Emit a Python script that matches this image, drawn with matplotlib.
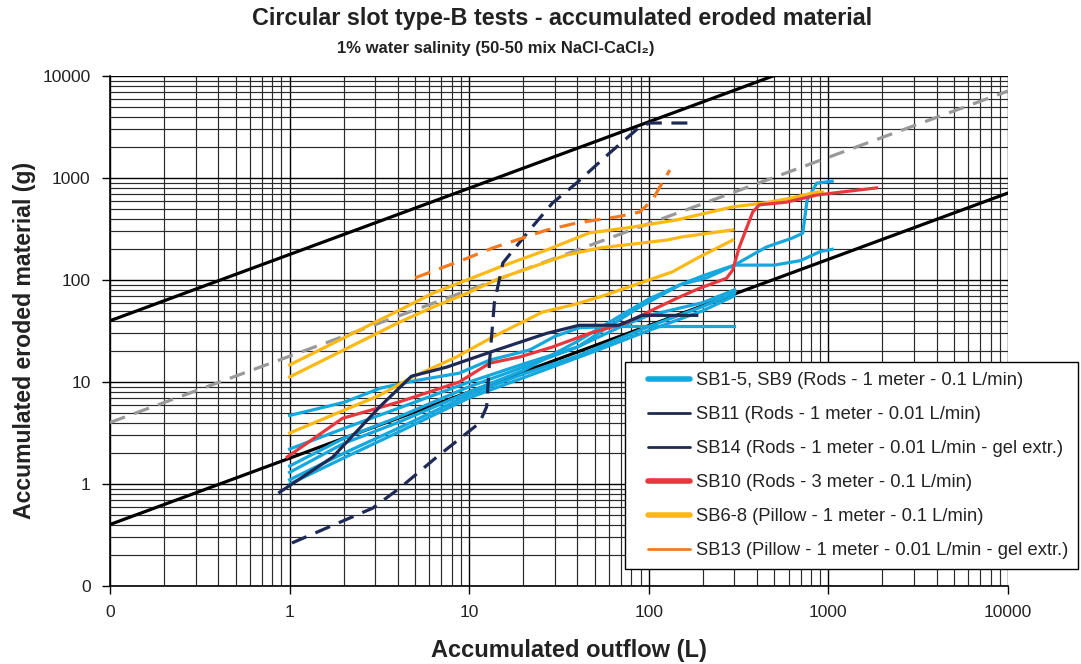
import matplotlib
matplotlib.use("Agg")
import matplotlib.pyplot as plt
from matplotlib.lines import Line2D
from matplotlib.legend_handler import HandlerBase
from matplotlib.ticker import LogLocator, FixedLocator, FixedFormatter, NullFormatter
import numpy as np

plt.rcParams['font.family'] = ['Liberation Sans', 'DejaVu Sans']

# ---------------- data ----------------
# SB1-5, SB9 (cyan)
cyanA_x = [1, 2, 3.2, 5, 8.8, 13, 21.7, 30, 41, 60, 100, 200, 300]
cyanA_y = [4.7, 6.3, 8.7, 10.3, 12.2, 16.4, 20.6, 28, 34, 35, 35, 35, 35]
cyanB_x = [1, 2, 4, 10, 20, 40, 70, 100, 200, 300]
cyanB_y = [2.2, 3.5, 5.5, 10, 15, 22, 35, 45, 60, 80]
cyanC_x = [1, 2, 4, 10, 20, 40, 60, 90, 150, 210, 300, 500, 700, 900, 1050]
cyanC_y = [1.5, 2.8, 4.5, 9, 14, 22, 35, 55, 90, 105, 140, 140, 155, 190, 200]
cyanD_x = [1, 2, 4, 10, 20, 40, 70, 100, 150, 200, 300, 450, 630, 720, 760, 860, 1050]
cyanD_y = [1.3, 2.5, 4, 8, 13, 25, 45, 65, 90, 110, 140, 210, 258, 288, 600, 890, 930]
cyanE_x = [1, 2, 4, 10, 20, 40, 100, 200, 300]
cyanE_y = [1.1, 2, 3.5, 7.5, 12, 18, 35, 55, 75]
cyanF_x = [1, 2, 4, 10, 20, 50, 100, 200, 300]
cyanF_y = [1.0, 1.8, 3.2, 7, 11, 20, 32, 50, 70]

# SB11 (navy solid)
sb11_x = [0.88, 1.74, 3.17, 4.77, 7.5, 14.2, 27, 41, 68, 92, 185]
sb11_y = [0.83, 1.84, 5.7, 11.4, 14, 20.6, 30, 36, 36, 45, 45]

# SB14 (navy dashed)
sb14_x = [1.03, 2.9, 4.1, 6.6, 11.4, 12.5, 13.0, 13.8, 15.4, 21.7, 29.1, 39.6, 60.5, 88.9, 101, 169]
sb14_y = [0.264, 0.58, 0.91, 1.84, 3.96, 5.7, 16.4, 59.5, 147, 309, 569, 893, 1758, 3163, 3460, 3460]

# SB10 (red)
sb10_x = [0.97, 1.97, 4.1, 8.8, 13, 19.1, 29, 46.8, 75, 110, 148, 192, 271, 293, 319, 379, 412, 584, 860, 1048, 1853]
sb10_y = [1.84, 4.4, 6.4, 10, 15.3, 17.6, 22, 30, 38, 53, 68, 83, 104, 125, 210, 464, 545, 580, 680, 710, 800]

# SB6-8 (yellow)
yelA_x = [1, 4.1, 6.25, 9.7, 14.8, 27, 46.8, 81, 142, 293, 452, 632, 860, 925]
yelA_y = [14.7, 50.8, 74, 100, 134, 197, 290, 330, 387, 521, 573, 640, 729, 729]
yelB_x = [1, 4.1, 6.25, 9.7, 14.8, 35, 53, 125, 154, 293]
yelB_y = [11.2, 38.7, 54, 74, 104, 176, 206, 246, 265, 310]
yelC_x = [1, 3.17, 4.84, 8.5, 13.5, 25.6, 37.7, 53, 89, 135, 191, 293]
yelC_y = [3.16, 7.4, 11.2, 17.6, 27.6, 48.5, 57, 68, 93, 120, 168, 246]

# SB13 (orange dashed)
sb13_x = [5, 9.2, 13.5, 27, 39.6, 66, 89, 105, 115, 131]
sb13_y = [105, 157, 206, 309, 362, 415, 464, 609, 816, 1197]

# Reference power-law lines y = a * x^0.65
ref_exp = 0.65
ref_upper_a = 178
ref_mid_a = 17.9
ref_lower_a = 1.79

tick_vals = [0.1, 1, 10, 100, 1000, 10000]
tick_labels = ["0", "1", "10", "100", "1000", "10000"]

legend_labels = [
    "SB1-5, SB9 (Rods - 1 meter - 0.1 L/min)",
    "SB11 (Rods - 1 meter - 0.01 L/min)",
    "SB14 (Rods - 1 meter - 0.01 L/min - gel extr.)",
    "SB10 (Rods - 3 meter - 0.1 L/min)",
    "SB6-8 (Pillow - 1 meter - 0.1 L/min)",
    "SB13 (Pillow - 1 meter - 0.01 L/min - gel extr.)",
]

# ---------------- colours ----------------
C_CYAN = "#14A8DE"
C_NAVY = "#1E2A55"
C_RED = "#E8383D"
C_YEL = "#FDB913"
C_ORA = "#F47A20"
C_GRAY = "#999999"
C_TEXT = "#222222"


class ShiftedLineHandler(HandlerBase):
    """Legend handle drawn only over the right part of the handle box."""
    def create_artists(self, legend, orig_handle, xdescent, ydescent,
                       width, height, fontsize, trans):
        x0 = -xdescent + width * 0.24
        x1 = -xdescent + width
        y = height / 2 - ydescent
        ln = Line2D([x0, x1], [y, y], color=orig_handle.get_color(),
                    lw=orig_handle.get_linewidth(), solid_capstyle="round")
        ln.set_transform(trans)
        return [ln]


fig = plt.figure(figsize=(10.81, 6.64), dpi=100)
ax = fig.add_axes([110/1081, 1-586/664, (1008-110)/1081, (586-76)/664])
ax.set_xscale("log")
ax.set_yscale("log")
ax.set_xlim(0.1, 10000)
ax.set_ylim(0.1, 10000)

# grid
ax.xaxis.set_minor_locator(LogLocator(base=10, subs=np.arange(2, 10)))
ax.yaxis.set_minor_locator(LogLocator(base=10, subs=np.arange(2, 10)))
ax.xaxis.set_minor_formatter(NullFormatter())
ax.yaxis.set_minor_formatter(NullFormatter())
ax.grid(True, which="major", color="#000000", lw=1.0)
ax.grid(True, which="minor", color="#2a2a2a", lw=0.85)
ax.set_axisbelow(True)

ax.xaxis.set_major_locator(FixedLocator(tick_vals))
ax.xaxis.set_major_formatter(FixedFormatter(tick_labels))
ax.yaxis.set_major_locator(FixedLocator(tick_vals))
ax.yaxis.set_major_formatter(FixedFormatter(tick_labels))
ax.tick_params(which="major", length=6, width=1, labelsize=12.5, pad=8,
               labelcolor=C_TEXT)
ax.tick_params(which="minor", length=0)
for s in ["top", "right"]:
    ax.spines[s].set_visible(False)
for s in ["left", "bottom"]:
    ax.spines[s].set_color("#000000")
    ax.spines[s].set_linewidth(1.2)

# reference lines
xr = np.array([0.1, 10000.0])
ax.plot(xr, ref_upper_a * xr**ref_exp, color="black", lw=2.3, zorder=3)
ax.plot(xr, ref_lower_a * xr**ref_exp, color="black", lw=2.3, zorder=3)
ax.plot(xr, ref_mid_a * xr**ref_exp, color=C_GRAY, lw=2.3, ls=(0, (5, 3)), zorder=3)

lw = 2.3
for xs, ys in [(cyanA_x, cyanA_y), (cyanB_x, cyanB_y), (cyanC_x, cyanC_y),
               (cyanD_x, cyanD_y), (cyanE_x, cyanE_y), (cyanF_x, cyanF_y)]:
    ax.plot(xs, ys, color=C_CYAN, lw=lw, zorder=4)
for xs, ys in [(yelA_x, yelA_y), (yelB_x, yelB_y), (yelC_x, yelC_y)]:
    ax.plot(xs, ys, color=C_YEL, lw=lw, zorder=4)
ax.plot(sb10_x, sb10_y, color=C_RED, lw=lw, zorder=5)
ax.plot(sb11_x, sb11_y, color=C_NAVY, lw=lw, zorder=5)
ax.plot(sb14_x, sb14_y, color=C_NAVY, lw=lw, ls=(0, (5, 3)), zorder=5)
ax.plot(sb13_x, sb13_y, color=C_ORA, lw=lw, ls=(0, (5, 3)), zorder=5)

handles = [
    Line2D([], [], color=C_CYAN, lw=4),
    Line2D([], [], color=C_NAVY, lw=2),
    Line2D([], [], color=C_NAVY, lw=2),
    Line2D([], [], color=C_RED, lw=4),
    Line2D([], [], color=C_YEL, lw=4),
    Line2D([], [], color=C_ORA, lw=2),
]
leg = fig.legend(handles, legend_labels, loc="upper left",
                 bbox_to_anchor=(625/1081, 1-362/664), bbox_transform=fig.transFigure,
                 fontsize=13.2, frameon=True, fancybox=False, framealpha=1,
                 edgecolor="black", handlelength=3.0, handletextpad=0.3,
                 labelspacing=0.93, borderpad=0.55, borderaxespad=0,
                 handler_map={Line2D: ShiftedLineHandler()})
leg.get_frame().set_linewidth(1.0)
for t in leg.get_texts():
    t.set_color(C_TEXT)
leg.set_zorder(10)

fig.text(562/1081, 1-19/664, "Circular slot type-B tests - accumulated eroded material",
         ha="center", va="center", fontsize=16.8, fontweight="bold", color=C_TEXT)
fig.text(496/1081, 1-49/664, "1% water salinity (50-50 mix NaCl-CaCl\u2082)",
         ha="center", va="center", fontsize=12, fontweight="bold", color=C_TEXT)
fig.text(569/1081, 1-650/664, "Accumulated outflow (L)", ha="center", va="center",
         fontsize=17, fontweight="bold", color=C_TEXT)
fig.text(25/1081, 1-340/664, "Accumulated eroded material (g)", ha="center", va="center",
         rotation=90, fontsize=16.6, fontweight="bold", color=C_TEXT)

fig.savefig("out.png", dpi=100)
